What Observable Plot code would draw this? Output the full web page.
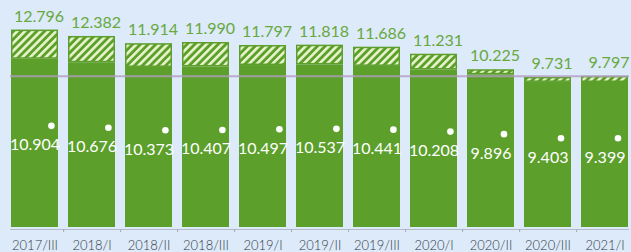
<!DOCTYPE html>
<html><head><meta charset="utf-8">
<script src="https://cdn.jsdelivr.net/npm/d3@7"></script>
<script src="https://cdn.jsdelivr.net/npm/@observablehq/plot@0.6"></script>
<style>
html,body{margin:0;padding:0;background:#dceaf9;}
#chart{width:631px;height:252px;}
</style></head><body><div id="chart"></div>
<script>
const periods = ["2017/III","2018/I","2018/II","2018/III","2019/I","2019/II","2019/III","2020/I","2020/II","2020/III","2021/I"];
const totals = [12.796,12.382,11.914,11.990,11.797,11.818,11.686,11.231,10.225,9.731,9.797];
const baseValues = [10.904,10.676,10.373,10.407,10.497,10.537,10.441,10.208,9.896,9.403,9.399];
const referenceLevel = 9.797;

const green = "#5c9f2b";
const stripe = "#eaf5cf";
const labelGreen = "#68a83e";
const fmt = d3.format(".3f");

const data = periods.map((p, i) => ({period: p, total: totals[i], base: baseValues[i]}));

// secondary axis for the white-dot series, expressed in primary-axis units
const lineAxis = d3.scaleLinear().domain([8, 12]).range([3.46, 5.59]);

const W = 631, H = 252, mL = 10, mR = 2, padIn = 0.178;
const step = (W - mL - mR) / (periods.length - padIn);

const chart = Plot.plot({
  width: W, height: H,
  marginLeft: mL, marginRight: mR, marginTop: 11, marginBottom: 25,
  style: {fontFamily: "Lato, 'Open Sans', sans-serif", background: "#dceaf9", color: "#343a46"},
  x: {type: "band", domain: periods, paddingInner: padIn, paddingOuter: 0},
  y: {domain: [0, 14], axis: null},
  marks: [
    Plot.ruleY([0], {dy: 2, stroke: "#b3bcc8", strokeWidth: 1}),
    Plot.axisX({ticks: periods.slice(0, -1), tickSize: 3, dx: step / 2, dy: 2, tickFormat: () => "", stroke: "#a3acb8", label: null}),
    Plot.axisX({tickSize: 0, tickPadding: 13, fontSize: 13, fontWeight: 300, fill: "#343a46", label: null}),
    Plot.barY(data, {x: "period", y: "base", fill: green}),
    Plot.barY(data, {x: "period", y1: "base", y2: "total", fill: "url(#hatch)", stroke: green, strokeWidth: 1.5, inset: 0.75}),
    Plot.ruleY([referenceLevel], {stroke: "#b39cc4", strokeOpacity: 0.8, strokeWidth: 2}),
    Plot.text(data, {x: "period", y: "total", text: d => fmt(d.total), dy: -8.5, dx: 4, lineAnchor: "bottom", fill: labelGreen, fontSize: 16}),
    Plot.text(data, {x: "period", y: d => lineAxis(d.base), text: d => fmt(d.base), lineAnchor: "bottom", fill: "white", fontSize: 16}),
    Plot.dot(data.filter(d => fmt(d.base).length === 6), {x: "period", y: d => lineAxis(d.base), dy: -24.4, dx: 16.4, r: 3.3, fill: "white", stroke: null}),
    Plot.dot(data.filter(d => fmt(d.base).length !== 6), {x: "period", y: d => lineAxis(d.base), dy: -24.4, dx: 13, r: 3.3, fill: "white", stroke: null})
  ]
});

const defs = d3.select(chart).insert("defs", ":first-child");
const pat = defs.append("pattern").attr("id", "hatch").attr("patternUnits", "userSpaceOnUse")
  .attr("width", 5.5).attr("height", 5.5).attr("patternTransform", "rotate(45)");
pat.append("rect").attr("width", 5.5).attr("height", 5.5).attr("fill", green);
pat.append("rect").attr("width", 2.6).attr("height", 5.5).attr("fill", stripe);

document.getElementById("chart").appendChild(chart);
</script></body></html>
